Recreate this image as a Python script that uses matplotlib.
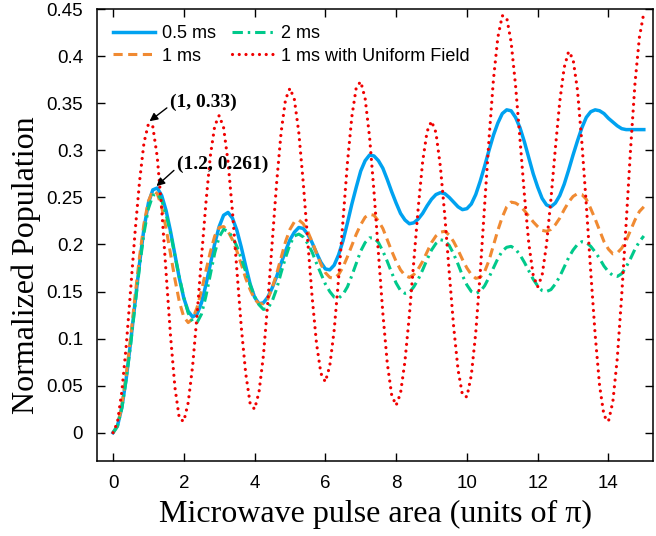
import numpy as np
import matplotlib
matplotlib.use("Agg")
import matplotlib.pyplot as plt
from matplotlib.ticker import FuncFormatter, MultipleLocator

# pulse area grid (units of pi); values every 0.125
pulse_area = np.linspace(0, 15, 121)

pop_05ms = [0.000, 0.007, 0.027, 0.058, 0.097, 0.139, 0.180, 0.217,
            0.244, 0.258, 0.260, 0.252, 0.236, 0.214, 0.189, 0.164,
            0.143, 0.129, 0.123, 0.126, 0.138, 0.157, 0.179, 0.201,
            0.219, 0.231, 0.234, 0.228, 0.215, 0.197, 0.177, 0.158,
            0.144, 0.137, 0.138, 0.144, 0.154, 0.166, 0.180, 0.193,
            0.205, 0.213, 0.218, 0.217, 0.211, 0.202, 0.191, 0.181,
            0.174, 0.173, 0.178, 0.189, 0.204, 0.223, 0.243, 0.261,
            0.278, 0.289, 0.295, 0.294, 0.289, 0.281, 0.269, 0.256,
            0.244, 0.233, 0.226, 0.222, 0.223, 0.227, 0.233, 0.241,
            0.248, 0.253, 0.255, 0.254, 0.250, 0.245, 0.240, 0.237,
            0.238, 0.243, 0.253, 0.267, 0.283, 0.300, 0.316, 0.329,
            0.339, 0.343, 0.342, 0.335, 0.324, 0.309, 0.292, 0.275,
            0.261, 0.249, 0.242, 0.240, 0.244, 0.252, 0.264, 0.279,
            0.295, 0.310, 0.324, 0.335, 0.341, 0.343, 0.342, 0.339,
            0.334, 0.330, 0.326, 0.323, 0.322, 0.322, 0.322, 0.322,
            0.322]

pop_1ms = [0.000, 0.007, 0.029, 0.062, 0.102, 0.146, 0.187, 0.222,
           0.246, 0.257, 0.254, 0.240, 0.217, 0.190, 0.163, 0.139,
           0.123, 0.117, 0.121, 0.133, 0.151, 0.172, 0.192, 0.209,
           0.218, 0.219, 0.214, 0.205, 0.193, 0.179, 0.164, 0.152,
           0.142, 0.137, 0.137, 0.142, 0.154, 0.169, 0.186, 0.203,
           0.216, 0.224, 0.226, 0.222, 0.214, 0.203, 0.191, 0.179,
           0.170, 0.165, 0.164, 0.168, 0.176, 0.187, 0.199, 0.211,
           0.221, 0.229, 0.232, 0.231, 0.225, 0.217, 0.205, 0.193,
           0.182, 0.173, 0.167, 0.165, 0.168, 0.174, 0.182, 0.192,
           0.202, 0.209, 0.213, 0.214, 0.210, 0.203, 0.194, 0.184,
           0.175, 0.168, 0.164, 0.165, 0.171, 0.183, 0.199, 0.215,
           0.229, 0.240, 0.245, 0.244, 0.241, 0.236, 0.230, 0.224,
           0.219, 0.215, 0.214, 0.216, 0.221, 0.228, 0.237, 0.245,
           0.251, 0.254, 0.253, 0.248, 0.238, 0.227, 0.215, 0.203,
           0.195, 0.190, 0.191, 0.196, 0.204, 0.215, 0.226, 0.235,
           0.240]

pop_2ms = [0.000, 0.007, 0.026, 0.057, 0.094, 0.136, 0.176, 0.212,
           0.238, 0.252, 0.254, 0.247, 0.232, 0.212, 0.188, 0.165,
           0.144, 0.127, 0.118, 0.117, 0.126, 0.145, 0.168, 0.191,
           0.208, 0.216, 0.214, 0.208, 0.198, 0.185, 0.171, 0.157,
           0.145, 0.136, 0.131, 0.132, 0.140, 0.153, 0.170, 0.186,
           0.200, 0.209, 0.211, 0.208, 0.201, 0.192, 0.180, 0.169,
           0.158, 0.150, 0.144, 0.143, 0.147, 0.155, 0.167, 0.180,
           0.193, 0.202, 0.207, 0.207, 0.202, 0.193, 0.182, 0.170,
           0.159, 0.151, 0.148, 0.149, 0.155, 0.163, 0.173, 0.184,
           0.194, 0.201, 0.205, 0.204, 0.199, 0.190, 0.179, 0.167,
           0.157, 0.150, 0.148, 0.150, 0.156, 0.165, 0.175, 0.185,
           0.193, 0.197, 0.198, 0.195, 0.189, 0.181, 0.172, 0.163,
           0.156, 0.151, 0.150, 0.152, 0.158, 0.166, 0.176, 0.186,
           0.194, 0.200, 0.203, 0.202, 0.198, 0.192, 0.185, 0.177,
           0.171, 0.167, 0.166, 0.169, 0.176, 0.185, 0.195, 0.203,
           0.209]

pop_uniform = [0.000, 0.011, 0.044, 0.093, 0.153, 0.214, 0.267, 0.308,
               0.328, 0.325, 0.293, 0.238, 0.170, 0.103, 0.048, 0.015,
               0.012, 0.032, 0.071, 0.125, 0.186, 0.244, 0.294, 0.326,
               0.337, 0.324, 0.288, 0.235, 0.173, 0.112, 0.063, 0.031,
               0.025, 0.043, 0.082, 0.139, 0.203, 0.266, 0.319, 0.354,
               0.366, 0.354, 0.319, 0.266, 0.205, 0.145, 0.095, 0.063,
               0.054, 0.071, 0.109, 0.164, 0.226, 0.287, 0.336, 0.367,
               0.373, 0.355, 0.314, 0.256, 0.191, 0.127, 0.074, 0.040,
               0.029, 0.042, 0.076, 0.125, 0.182, 0.239, 0.288, 0.320,
               0.331, 0.319, 0.283, 0.231, 0.171, 0.113, 0.067, 0.040,
               0.038, 0.061, 0.106, 0.169, 0.241, 0.312, 0.375, 0.420,
               0.443, 0.441, 0.415, 0.369, 0.312, 0.253, 0.201, 0.167,
               0.155, 0.167, 0.200, 0.248, 0.302, 0.352, 0.388, 0.405,
               0.397, 0.364, 0.308, 0.242, 0.171, 0.104, 0.050, 0.018,
               0.012, 0.033, 0.079, 0.146, 0.222, 0.301, 0.371, 0.420,
               0.446]

labels = ["0.5 ms", "1 ms", "2 ms", "1 ms with Uniform Field"]
colors = ["#00a2f0", "#f08a32", "#00c98b", "#f00000"]

fig = plt.figure(figsize=(6.56, 5.36), dpi=100)
ax = fig.add_axes([0.148, 0.14, 0.848, 0.843])

ax.plot(pulse_area, pop_05ms, color=colors[0], lw=2.5, label=labels[0])
ax.plot(pulse_area, pop_1ms, color=colors[1], lw=2.2, dashes=(3, 1.8), label=labels[1])
ax.plot(pulse_area, pop_2ms, color=colors[2], lw=2.2, dashes=(3.4, 1.6, 0.8, 1.6), label=labels[2])
ax.plot(pulse_area, pop_uniform, color=colors[3], lw=2.3, linestyle=(0, (0.01, 2.1)),
        dash_capstyle="round", label=labels[3])

ax.set_xlim(-0.45, 15.27)
ax.set_ylim(-0.03, 0.45)
ax.xaxis.set_major_locator(MultipleLocator(2))
ax.yaxis.set_major_locator(MultipleLocator(0.05))
ax.yaxis.set_major_formatter(FuncFormatter(lambda v, p: "%g" % round(v, 2)))
ax.tick_params(direction="in", length=6, width=1, top=True, right=True,
               labelsize=13.5, pad=10)
for lab in ax.get_xticklabels() + ax.get_yticklabels():
    lab.set_family("Liberation Sans")
for s in ax.spines.values():
    s.set_linewidth(1.1)

ax.set_xlabel("Microwave pulse area (units of π)", family="Liberation Serif",
              fontsize=23, labelpad=6)
ax.set_ylabel("Normalized Population", family="Liberation Serif", fontsize=23)
ax.yaxis.set_label_coords(-0.10, 0.434)

leg = ax.legend(loc="upper left", ncol=2, frameon=False, handlelength=2.3,
                handletextpad=0.4, columnspacing=0.9, labelspacing=0.3,
                borderaxespad=0.5, prop={"family": "Liberation Sans", "size": 13})

arrow = dict(arrowstyle="-|>", color="k", lw=1, mutation_scale=12,
             shrinkA=0, shrinkB=1, relpos=(0, 0.3))
ax.annotate("(1, 0.33)", xy=(1.0, 0.33), xytext=(1.6, 0.351), ha="left", va="center",
            family="Liberation Serif", fontweight="bold", fontsize=14, arrowprops=arrow)
ax.annotate("(1.2, 0.261)", xy=(1.2, 0.261), xytext=(1.8, 0.285), ha="left", va="center",
            family="Liberation Serif", fontweight="bold", fontsize=14, arrowprops=arrow)

fig.savefig("out.png", dpi=100)
